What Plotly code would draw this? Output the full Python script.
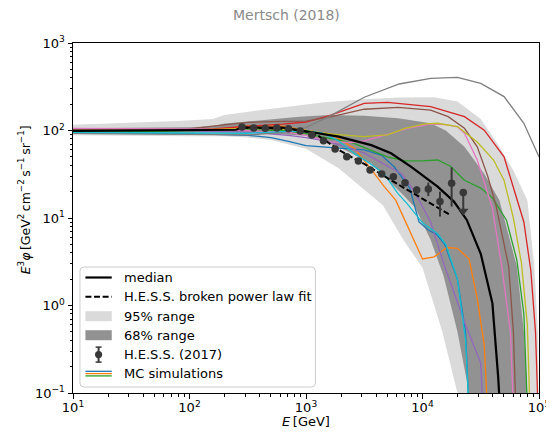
import plotly.graph_objects as go

# ---------------- data ----------------
# H.E.S.S. (2017) data points
hess_E = [282, 355, 447, 562, 708, 891, 1122, 1413, 1778, 2239, 2818, 3548,
          4467, 5623, 7079, 8913, 11220, 14125, 17783, 22387]
hess_flux = [110, 107, 106, 107, 105, 98.5, 89, 76.5, 61.5, 50, 44.8, 35.3,
             31.8, 29.7, 25.3, 20.9, 21.4, 15.4, 24.9, 19.5]
hess_err_up = [2, 2, 2, 2, 2, 2, 2, 2, 1.5, 1.5, 1.5, 1.2,
               1.2, 1.2, 1.5, 2.0, 4.0, 4.6, 13.0, 0.0]
hess_err_dn = [2, 2, 2, 2, 2, 2, 2, 2, 1.5, 1.5, 1.5, 1.2,
               1.2, 1.2, 1.5, 2.0, 3.6, 5.0, 11.4, 7.5]
hess_ul_E = [22387]
hess_ul_flux = [12.0]

# H.E.S.S. broken power law fit
fit_logE = [2.45, 2.6, 2.8, 2.9, 3.0, 3.1, 3.2, 3.3, 3.4, 3.5, 3.7, 4.0, 4.24]
fit_flux = [108, 107, 105, 102, 97, 88, 72, 58, 49, 41.5, 28.5, 16.5, 10.8]

# median
med_logE = [1.0, 2.0, 2.4, 2.45, 2.8, 3.0, 3.28, 3.56, 3.73, 3.9, 4.13, 4.27,
            4.38, 4.5, 4.6, 4.65, 4.68]
med_flux = [99, 100, 102, 108, 108, 98, 85, 68, 55, 38.6, 22.8, 15.4,
            9.5, 3.9, 1.06, 0.15, 0.03]

# 95% range
b95_up_logE = [1.0, 1.5, 1.9, 2.2, 2.3, 2.6, 3.0, 3.16, 3.5, 3.8, 4.1, 4.3,
               4.5, 4.64, 4.78, 4.9, 4.96, 4.99, 5.0]
b95_up = [116, 122, 128, 135, 150, 170, 200, 210, 228, 238, 240, 215,
          135, 72, 35, 16, 2.8, 0.5, 0.02]
b95_lo_logE = [1.0, 2.0, 2.3, 2.5, 2.7, 3.0, 3.28, 3.56, 3.66, 3.84, 4.0,
               4.17, 4.3, 4.35]
b95_lo = [88, 86, 86, 83, 78, 62, 37, 18, 14, 5.5, 2.7, 0.5, 0.1, 0.02]

# 68% range
b68_up_logE = [1.0, 1.5, 2.0, 2.2, 2.3, 2.6, 2.94, 3.2, 3.5, 3.79, 4.07, 4.2,
               4.36, 4.53, 4.66, 4.81, 4.87, 4.9, 4.92]
b68_up = [106, 107, 109, 112, 120, 130, 144, 150, 147, 138, 121, 100,
          65, 32, 16, 2.8, 0.5, 0.1, 0.02]
b68_lo_logE = [1.0, 2.0, 2.5, 2.7, 3.0, 3.28, 3.56, 3.84, 3.94, 4.07, 4.18,
               4.3, 4.4, 4.45]
b68_lo = [96, 95, 94, 92, 87, 65, 42, 18, 13, 5.6, 2.2, 0.5, 0.1, 0.02]

# MC simulations (matplotlib default colour cycle)
mc_blue_logE = [1.0, 2.0, 2.5, 2.7, 2.85, 3.0, 3.28, 3.5, 3.65, 3.76, 3.89,
                3.97, 4.05, 4.12, 4.19, 4.3, 4.37, 4.41]
mc_blue = [93, 92, 88, 83, 75, 67, 63, 60, 52, 38, 22, 9, 7.3, 6.5, 5, 2,
           0.48, 0.03]

mc_orange_logE = [1.0, 2.0, 2.3, 2.5, 2.8, 3.0, 3.22, 3.42, 3.56, 3.67, 3.77,
                  3.87, 4.0, 4.1, 4.21, 4.3, 4.4, 4.47, 4.53, 4.57]
mc_orange = [98, 100, 105, 112, 112, 100, 91, 62, 36, 23, 16, 8, 3.4, 3.6,
             4.6, 4.5, 3.4, 1.2, 0.35, 0.03]

mc_green_logE = [1.0, 2.0, 2.5, 2.8, 3.0, 3.2, 3.4, 3.55, 3.7, 3.85, 4.0,
                 4.13, 4.24, 4.36, 4.5, 4.6, 4.72, 4.81, 4.87, 4.91]
mc_green = [97, 98, 102, 100, 92, 82, 72, 60, 50, 45, 45, 46, 39, 27, 22,
            17, 9.5, 3.3, 0.8, 0.03]

mc_red_logE = [1.0, 2.0, 2.2, 2.5, 2.8, 3.0, 3.2, 3.5, 3.7, 4.07, 4.36, 4.53,
               4.7, 4.78, 4.87, 4.93, 4.97, 5.0]
mc_red = [100, 101, 104, 112, 118, 125, 148, 204, 210, 187, 144, 101, 50,
          23, 9, 2.5, 0.5, 0.03]

mc_purple_logE = [1.0, 2.0, 2.5, 2.85, 3.0, 3.14, 3.3, 3.5, 3.7, 3.82, 3.9,
                  3.97, 4.07, 4.19, 4.37, 4.5, 4.53]
mc_purple = [105, 100, 96, 88, 83, 77, 68, 55, 39, 32, 23, 16, 9, 2.8, 0.6,
             0.22, 0.03]

mc_brown_logE = [1.0, 2.0, 2.2, 2.5, 2.8, 3.0, 3.22, 3.5, 3.79, 4.07, 4.22,
                 4.36, 4.47, 4.56, 4.63, 4.74, 4.78, 4.81]
mc_brown = [103, 104, 112, 124, 127, 128, 144, 175, 184, 171, 144, 106, 65,
            30, 14, 2.8, 0.5, 0.03]

mc_pink_logE = [1.0, 2.0, 2.5, 2.85, 3.0, 3.2, 3.4, 3.5, 3.7, 3.87, 4.07,
                4.2, 4.3, 4.36, 4.47, 4.56, 4.6, 4.68, 4.755, 4.79]
mc_pink = [106, 104, 100, 95, 88, 74, 73, 76, 90, 106, 118, 117, 110, 93,
           46, 19, 13, 2.8, 0.5, 0.03]

mc_gray_logE = [1.0, 1.5, 2.0, 2.5, 2.8, 3.0, 3.2, 3.5, 3.8, 4.07, 4.3, 4.5,
                4.7, 4.87, 5.0]
mc_gray = [93, 92, 90, 89, 95, 108, 145, 240, 340, 395, 405, 346, 244,
           121, 50]

mc_olive_logE = [1.0, 2.0, 2.5, 2.8, 3.0, 3.22, 3.5, 3.7, 3.85, 4.02, 4.13,
                 4.3, 4.47, 4.61, 4.7, 4.78, 4.85, 4.9, 4.93]
mc_olive = [100, 101, 106, 104, 100, 91, 85, 89, 106, 119, 121, 111, 74, 46,
            27, 10, 3, 0.6, 0.03]

mc_cyan_logE = [1.0, 2.0, 2.5, 2.8, 3.0, 3.14, 3.28, 3.42, 3.55, 3.67, 3.79,
                3.87, 4.0, 4.13, 4.2, 4.3, 4.37, 4.41]
mc_cyan = [95, 94, 93, 97, 99, 94, 76, 54, 42, 32, 19, 14.5, 8.8, 6.6, 5, 2,
           0.4, 0.03]

mc_curves = [
    (mc_blue_logE, mc_blue, "#1f77b4"),
    (mc_orange_logE, mc_orange, "#ff7f0e"),
    (mc_green_logE, mc_green, "#2ca02c"),
    (mc_red_logE, mc_red, "#d62728"),
    (mc_purple_logE, mc_purple, "#9467bd"),
    (mc_brown_logE, mc_brown, "#8c564b"),
    (mc_pink_logE, mc_pink, "#e377c2"),
    (mc_gray_logE, mc_gray, "#7f7f7f"),
    (mc_olive_logE, mc_olive, "#bcbd22"),
    (mc_cyan_logE, mc_cyan, "#17becf"),
]

x_tick_vals = [10, 100, 1000, 10000, 100000]
x_tick_text = ["10<sup>1</sup>", "10<sup>2</sup>", "10<sup>3</sup>",
               "10<sup>4</sup>", "10<sup>5</sup>"]
y_tick_vals = [0.1, 1, 10, 100, 1000]
y_tick_text = ["10<sup>−1</sup>", "10<sup>0</sup>", "10<sup>1</sup>",
               "10<sup>2</sup>", "10<sup>3</sup>"]

legend_labels = ["median", "H.E.S.S. broken power law fit", "95% range",
                 "68% range", "H.E.S.S. (2017)", "MC simulations"]

# ---------------- styling / layout helpers ----------------
W, H = 554, 433
OFF = 8                       # page body margin of the html output
L, R, T, B = 73, 542, 43, 393  # plot frame in page pixels
FONT = "DejaVu Sans"
LIGHT = "#dadada"
DARK = "#929292"
PT = "#383838"
TS = "\u2009"                  # thin space


def E(logs):
    return [10 ** v for v in logs]


def px(x):
    return (x - L) / (R - L)


def py(y):
    return (B - y) / (B - T)


fig = go.Figure()

# bands
fig.add_trace(go.Scatter(
    x=E(b95_up_logE) + E(b95_lo_logE)[::-1], y=b95_up + b95_lo[::-1],
    fill="toself", fillcolor=LIGHT, line=dict(width=0), mode="lines",
    hoverinfo="skip", showlegend=False))
fig.add_trace(go.Scatter(
    x=E(b68_up_logE) + E(b68_lo_logE)[::-1], y=b68_up + b68_lo[::-1],
    fill="toself", fillcolor=DARK, line=dict(width=0), mode="lines",
    hoverinfo="skip", showlegend=False))

# MC curves
for lx, ly, col in mc_curves:
    fig.add_trace(go.Scatter(x=E(lx), y=ly, mode="lines",
                             line=dict(color=col, width=1.3),
                             showlegend=False))

# median
fig.add_trace(go.Scatter(x=E(med_logE), y=med_flux, mode="lines",
                         line=dict(color="black", width=2.2), showlegend=False))
# fit
fig.add_trace(go.Scatter(x=E(fit_logE), y=fit_flux, mode="lines",
                         line=dict(color="black", width=2, dash="6px,2.6px"),
                         showlegend=False))
# data
fig.add_trace(go.Scatter(
    x=hess_E, y=hess_flux, mode="markers",
    marker=dict(color=PT, size=7.5),
    error_y=dict(type="data", symmetric=False, array=hess_err_up,
                 arrayminus=hess_err_dn, color=PT, thickness=2, width=0),
    showlegend=False))
fig.add_trace(go.Scatter(
    x=hess_ul_E, y=hess_ul_flux, mode="markers",
    marker=dict(color=PT, size=9, symbol="triangle-down"),
    showlegend=False))

# ---------------- manual legend ----------------
shapes = []
annots = []
bx0, bx1, by0, by1 = 80, 317, 267, 387
r = 4
path = (f"M {px(bx0 + r)},{py(by0)} L {px(bx1 - r)},{py(by0)} "
        f"Q {px(bx1)},{py(by0)} {px(bx1)},{py(by0 + r)} "
        f"L {px(bx1)},{py(by1 - r)} Q {px(bx1)},{py(by1)} {px(bx1 - r)},{py(by1)} "
        f"L {px(bx0 + r)},{py(by1)} Q {px(bx0)},{py(by1)} {px(bx0)},{py(by1 - r)} "
        f"L {px(bx0)},{py(by0 + r)} Q {px(bx0)},{py(by0)} {px(bx0 + r)},{py(by0)} Z")
shapes.append(dict(type="path", path=path, xref="paper", yref="paper",
                   fillcolor="rgba(255,255,255,0.8)",
                   line=dict(color="#cccccc", width=1), layer="above"))

rows = [277.5, 296.8, 316.2, 335.2, 354.6, 373.6]
hx0, hx1 = 85.5, 112
shapes.append(dict(type="line", xref="paper", yref="paper",
                   x0=px(hx0), x1=px(hx1), y0=py(rows[0]), y1=py(rows[0]),
                   line=dict(color="black", width=2.2), layer="above"))
shapes.append(dict(type="line", xref="paper", yref="paper",
                   x0=px(hx0), x1=px(hx1), y0=py(rows[1]), y1=py(rows[1]),
                   line=dict(color="black", width=2, dash="6px,2.6px"),
                   layer="above"))
for rr, col in ((rows[2], LIGHT), (rows[3], DARK)):
    shapes.append(dict(type="rect", xref="paper", yref="paper",
                       x0=px(hx0), x1=px(hx1), y0=py(rr + 5), y1=py(rr - 5),
                       fillcolor=col, line=dict(width=0), layer="above"))
cx = (hx0 + hx1) / 2
shapes.append(dict(type="line", xref="paper", yref="paper",
                   x0=px(cx), x1=px(cx), y0=py(rows[4] - 7.5), y1=py(rows[4] + 7.5),
                   line=dict(color=PT, width=2), layer="above"))
for dy in (-7.5, 7.5):
    shapes.append(dict(type="line", xref="paper", yref="paper",
                       x0=px(cx - 3), x1=px(cx + 3), y0=py(rows[4] + dy),
                       y1=py(rows[4] + dy), line=dict(color=PT, width=1.5),
                       layer="above"))
shapes.append(dict(type="circle", xref="paper", yref="paper",
                   x0=px(cx - 3.6), x1=px(cx + 3.6), y0=py(rows[4] + 3.6),
                   y1=py(rows[4] - 3.6), fillcolor=PT, line=dict(width=0),
                   layer="above"))
for dy, col in ((-2.3, "#1f77b4"), (0, "#ff7f0e"), (2.3, "#2ca02c")):
    shapes.append(dict(type="line", xref="paper", yref="paper",
                       x0=px(hx0), x1=px(hx1), y0=py(rows[5] + dy),
                       y1=py(rows[5] + dy), line=dict(color=col, width=1.3),
                       layer="above"))
for rr, txt in zip(rows, legend_labels):
    annots.append(dict(x=px(122.5), y=py(rr), xref="paper", yref="paper",
                       text=txt, showarrow=False, xanchor="left",
                       yanchor="middle", font=dict(size=13, color="black",
                                                   family=FONT)))

# title and axis labels
annots.append(dict(x=px(288), y=py(15), xref="paper", yref="paper",
                   text="Mertsch (2018)", showarrow=False, xanchor="center",
                   yanchor="middle", font=dict(size=14, color="#8a8a8a",
                                               family=FONT)))
annots.append(dict(x=px(307.5), y=py(421), xref="paper", yref="paper",
                   text=f"<i>E</i>{TS}[GeV]", showarrow=False, xanchor="center",
                   yanchor="middle", font=dict(size=13, color="black",
                                               family=FONT)))
annots.append(dict(x=px(24), y=py(200), xref="paper", yref="paper",
                   text=(f"<i>E</i><sup>3</sup><i>φ</i>{TS}[GeV<sup>2</sup>{TS}cm<sup>−2</sup>{TS}"
                         f"s<sup>−1</sup>{TS}sr<sup>−1</sup>]"),
                   showarrow=False, textangle=-90, xanchor="center",
                   yanchor="middle", font=dict(size=12.5, color="black",
                                               family=FONT)))

x_minor = [m * 10 ** d for d in range(1, 5) for m in range(2, 10)]
y_minor = [m * 10 ** d for d in range(-1, 3) for m in range(2, 10)]

axis_common = dict(type="log", showgrid=False, zeroline=False,
                   showline=True, linecolor="black", linewidth=1,
                   mirror=True, ticks="outside", ticklen=4.5, tickwidth=1,
                   tickcolor="black", tickmode="array",
                   tickfont=dict(size=13, color="black", family=FONT))

fig.update_layout(
    width=W, height=H,
    margin=dict(l=L - OFF, r=W - R + OFF, t=T - OFF, b=H - B + OFF),
    paper_bgcolor="white", plot_bgcolor="white",
    showlegend=False,
    xaxis=dict(range=[1, 5], tickvals=x_tick_vals, ticktext=x_tick_text,
               ticklabelstandoff=-2,
               minor=dict(tickvals=x_minor, ticks="outside", ticklen=2.5,
                          tickcolor="black", tickwidth=0.8),
               **axis_common),
    yaxis=dict(range=[-1, 3], tickvals=y_tick_vals, ticktext=y_tick_text,
               minor=dict(tickvals=y_minor, ticks="outside", ticklen=2.5,
                          tickcolor="black", tickwidth=0.8),
               **axis_common),
    shapes=shapes, annotations=annots,
    font=dict(family=FONT),
)

fig.write_html("out.html")
